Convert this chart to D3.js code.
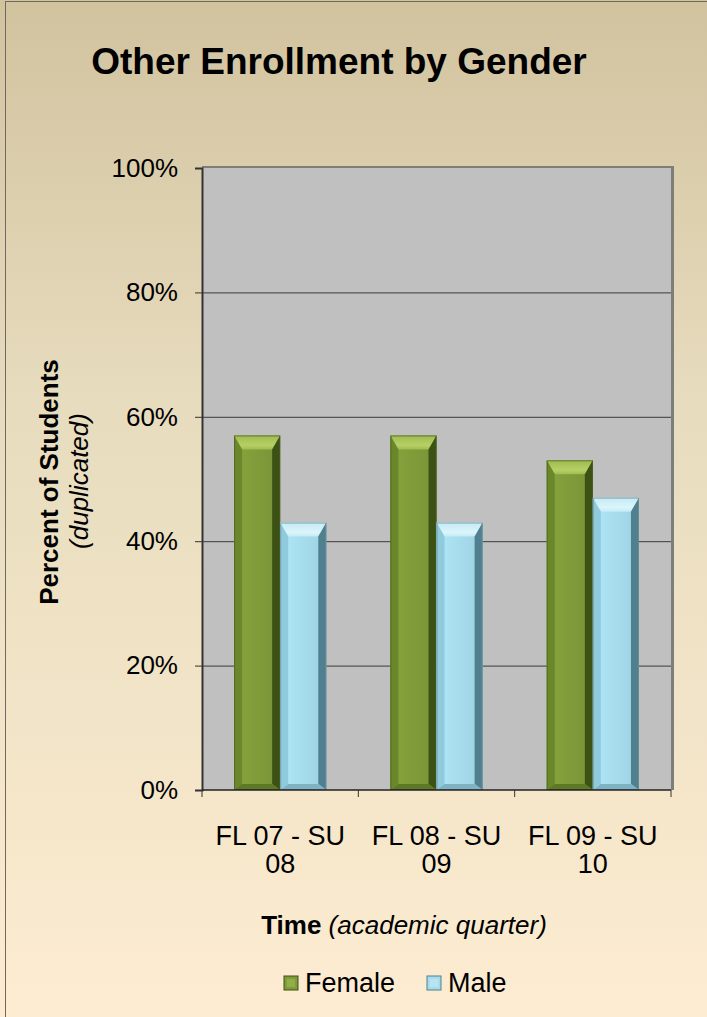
<!DOCTYPE html>
<html>
<head>
<meta charset="utf-8">
<script src="https://cdn.jsdelivr.net/npm/d3@7"></script>
<style>
  body { margin: 0; background: #fff; }
  svg { display: block; font-family: "Liberation Sans", Arial, sans-serif; }
</style>
</head>
<body>
<svg id="chart" width="707" height="1017"></svg>
<script>
// chart data
const categories = [["FL 07 - SU", "08"], ["FL 08 - SU", "09"], ["FL 09 - SU", "10"]];
const seriesNames = ["Female", "Male"];
const female = [57, 57, 53];
const male = [43, 43, 47];
const yTicks = [0, 20, 40, 60, 80, 100];

const W = 707, H = 1017;
const margin = { top: 168, left: 202, right: 36, bottom: 227 };
const pw = W - margin.left - margin.right, ph = H - margin.top - margin.bottom;

const palette = {
  Female: { face: "#7f9b3a", top: "#9fbc4f", hi: "#b6d066", left: "#6a872a", right: "#3c5214", bottom: "#5e7826", edge: "#4a5e22" },
  Male:   { face: "#a6dcec", top: "#c4eaf5", hi: "#dcf5fb", left: "#8fcadd", right: "#50808f", bottom: "#7fb3c3", edge: "#6c8e99" }
};

const svg = d3.select("#chart");
const defs = svg.append("defs");

// background gradient
const bg = defs.append("linearGradient").attr("id", "bg").attr("x1", 0).attr("y1", 0).attr("x2", 0).attr("y2", 1);
bg.append("stop").attr("offset", "0%").attr("stop-color", "#d2c39f");
bg.append("stop").attr("offset", "40%").attr("stop-color", "#e7dcbe");
bg.append("stop").attr("offset", "100%").attr("stop-color", "#fdecd1");

svg.append("rect").attr("width", W).attr("height", H).attr("fill", "url(#bg)");
svg.append("rect").attr("x", 5.5).attr("y", 1.5).attr("width", W).attr("height", H)
  .attr("fill", "none").attr("stroke", "#6f6a60").attr("stroke-width", 1);

// face gradients for bars
seriesNames.forEach(s => {
  const g = defs.append("linearGradient").attr("id", "face-" + s).attr("x1", 0).attr("x2", 1);
  g.append("stop").attr("offset", "0%").attr("stop-color", d3.color(palette[s].face).brighter(0.15));
  g.append("stop").attr("offset", "100%").attr("stop-color", d3.color(palette[s].face).darker(0.15));
  const t = defs.append("linearGradient").attr("id", "top-" + s).attr("x1", 0).attr("y1", 0).attr("x2", 0).attr("y2", 1);
  t.append("stop").attr("offset", "0%").attr("stop-color", palette[s].top);
  t.append("stop").attr("offset", "70%").attr("stop-color", palette[s].hi);
  t.append("stop").attr("offset", "100%").attr("stop-color", palette[s].top);
});

const y = d3.scaleLinear().domain([0, 100]).range([ph, 0]);
const x0 = d3.scaleBand().domain(d3.range(categories.length)).range([0, pw]);
const gap = x0.bandwidth() * 0.205;
const x1 = d3.scaleBand().domain(seriesNames).range([gap, x0.bandwidth() - gap]);

const g = svg.append("g").attr("transform", `translate(${margin.left},${margin.top})`);

// plot area with slight shadow
g.append("rect").attr("x", 0).attr("y", -2).attr("width", pw + 3).attr("height", ph + 2).attr("fill", "#7d7d7a");
g.append("rect").attr("width", pw).attr("height", ph).attr("fill", "#c0c0c0");

// gridlines
g.append("g")
  .call(d3.axisLeft(y).tickValues(yTicks.slice(1, -1)).tickSize(-pw).tickFormat(""))
  .call(s => s.select(".domain").remove())
  .call(s => s.selectAll("line").attr("stroke", "#3a3a3a").attr("stroke-width", 1));

// y axis
g.append("g")
  .call(d3.axisLeft(y).tickValues(yTicks).tickSize(7).tickPadding(17).tickFormat(d => d + "%"))
  .call(s => s.select(".domain").attr("stroke", "#333").attr("stroke-width", 2))
  .call(s => s.selectAll("line").attr("stroke", "#333"))
  .call(s => s.selectAll("text").attr("font-size", 26).attr("fill", "#000").attr("font-family", "Liberation Sans, Arial, sans-serif"));

// bars
const bev = { t: 14, s: 8, b: 6 };
function drawBar(sel, s, cx, val) {
  const bx0 = x0(cx) + x1(s), bx1 = bx0 + x1.bandwidth();
  const by0 = y(val), by1 = y(0);
  const p = palette[s];
  const poly = pts => pts.map(d => d.join(",")).join(" ");
  sel.append("rect").attr("x", bx0).attr("y", by0).attr("width", bx1 - bx0).attr("height", by1 - by0)
    .attr("fill", `url(#face-${s})`);
  sel.append("polygon").attr("points", poly([[bx0, by0], [bx1, by0], [bx1 - bev.s, by0 + bev.t], [bx0 + bev.s, by0 + bev.t]])).attr("fill", `url(#top-${s})`);
  sel.append("polygon").attr("points", poly([[bx0, by0], [bx0 + bev.s, by0 + bev.t], [bx0 + bev.s, by1 - bev.b], [bx0, by1]])).attr("fill", p.left);
  sel.append("polygon").attr("points", poly([[bx1, by0], [bx1, by1], [bx1 - bev.s, by1 - bev.b], [bx1 - bev.s, by0 + bev.t]])).attr("fill", p.right);
  sel.append("polygon").attr("points", poly([[bx0, by1], [bx1, by1], [bx1 - bev.s, by1 - bev.b], [bx0 + bev.s, by1 - bev.b]])).attr("fill", p.bottom);
  sel.append("rect").attr("x", bx0 + 0.5).attr("y", by0 + 0.5).attr("width", bx1 - bx0 - 1).attr("height", by1 - by0 - 1)
    .attr("fill", "none").attr("stroke", p.edge).attr("stroke-opacity", 0.7);
}
const barG = g.append("g");
categories.forEach((c, i) => {
  drawBar(barG, "Female", i, female[i]);
  drawBar(barG, "Male", i, male[i]);
});

// x axis
const xa = g.append("g").attr("transform", `translate(0,${ph})`);
xa.append("line").attr("x1", 0).attr("x2", pw).attr("stroke", "#222").attr("stroke-width", 1.5);
xa.selectAll(".tk").data(d3.range(categories.length + 1)).enter().append("line")
  .attr("x1", d => d === categories.length ? pw : x0(d)).attr("x2", d => d === categories.length ? pw : x0(d))
  .attr("y1", 0).attr("y2", 7).attr("stroke", "#333");
const lab = xa.selectAll(".lab").data(categories).enter().append("text")
  .attr("text-anchor", "middle").attr("font-size", 27)
  .attr("transform", (d, i) => `translate(${x0(i) + x0.bandwidth() / 2},55)`);
lab.append("tspan").attr("x", 0).attr("y", 0).text(d => d[0]);
lab.append("tspan").attr("x", 0).attr("y", 28).text(d => d[1]);

// title
svg.append("text").attr("x", 339).attr("y", 74).attr("text-anchor", "middle")
  .attr("font-size", 37).attr("font-weight", "bold").text("Other Enrollment by Gender");

// axis titles
const xt = svg.append("text").attr("x", 404).attr("y", 934).attr("text-anchor", "middle").attr("font-size", 26);
xt.append("tspan").attr("font-weight", "bold").text("Time ");
xt.append("tspan").attr("font-style", "italic").text("(academic quarter)");

svg.append("text").attr("transform", "translate(58,482) rotate(-90)").attr("text-anchor", "middle")
  .attr("font-size", 26).attr("font-weight", "bold").text("Percent of Students");
svg.append("text").attr("transform", "translate(88,481) rotate(-90)").attr("text-anchor", "middle")
  .attr("font-size", 26).attr("font-style", "italic").text("(duplicated)");

// legend
const legX = [284, 427];
const leg = svg.append("g").selectAll("g").data(seriesNames).enter().append("g")
  .attr("transform", (d, i) => `translate(${legX[i]},976)`);
leg.append("rect").attr("width", 14).attr("height", 14).attr("fill", d => palette[d].face).attr("stroke", d => palette[d].right);
leg.append("rect").attr("x", 3).attr("y", 3).attr("width", 8).attr("height", 8).attr("fill", d => palette[d].top).attr("opacity", 0.6);
leg.append("text").attr("x", 21).attr("y", 16).attr("font-size", 27).text(d => d);
</script>
</body>
</html>
